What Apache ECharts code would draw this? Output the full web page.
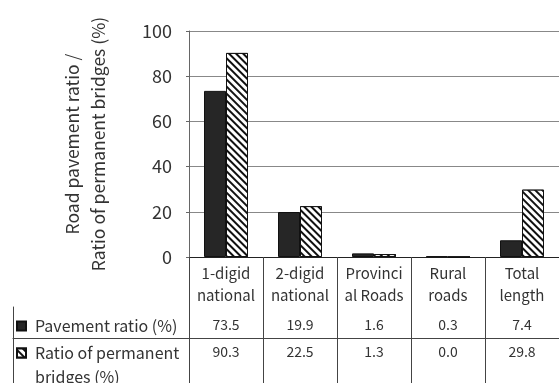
<!DOCTYPE html>
<html>
<head>
<meta charset="utf-8">
<script src="https://cdn.jsdelivr.net/npm/echarts@6/dist/echarts.min.js"></script>
<style>
  html, body { margin: 0; padding: 0; background: #fff; }
  #chart { width: 559px; height: 383px; }
</style>
</head>
<body>
<div id="chart"></div>
<script>
// Road categories (column headers of the table under the chart)
const categories = ['1-digid\nnational', '2-digid\nnational', 'Provinci\nal Roads', 'Rural\nroads', 'Total\nlength'];
// Values in percent
const pavementRatio = [73.5, 19.9, 1.6, 0.3, 7.4];
const permanentBridgeRatio = [90.3, 22.5, 1.3, 0.0, 29.8];
// Value axis ticks
const yTicks = [0, 20, 40, 60, 80, 100];
const seriesNames = ['Pavement ratio (%)', 'Ratio of permanent bridges (%)'];
const valueAxisName = 'Road pavement ratio /\nRatio of permanent bridges (%)';

const FONT = '"Noto Sans CJK JP", "Noto Sans", sans-serif';
const TEXT = '#333';
const RULE = '#444';

const chart = echarts.init(document.getElementById('chart'), null, { renderer: 'canvas' });

// One table row = a label-only category axis placed under the plot
const tableRow = (values, offset) => ({
  gridIndex: 0,
  type: 'category',
  data: categories,
  position: 'bottom',
  offset: offset,
  axisLine: { show: false },
  axisTick: { show: false },
  splitLine: { show: false },
  axisLabel: {
    interval: 0,
    margin: 0,
    fontSize: 14,
    color: TEXT,
    formatter: (v, i) => values[i].toFixed(1)
  }
});

// Horizontal table rule spanning the full table width
const tableRule = offset => ({
  gridIndex: 1, type: 'category', data: [''], position: 'top', offset: offset,
  axisLine: { show: true, lineStyle: { color: RULE } },
  axisTick: { show: false }, axisLabel: { show: false }, splitLine: { show: false }
});

const legendBase = {
  left: 16, padding: 0,
  orient: 'vertical',
  icon: 'rect', itemWidth: 9, itemHeight: 9,
  selectedMode: false,
  textStyle: { fontSize: 16, color: TEXT, lineHeight: 24, padding: [0, 0, 0, 4] }
};

chart.setOption({
  animation: false,
  backgroundColor: '#fff',
  textStyle: { fontFamily: FONT },
  grid: [
    { left: 189, top: 31, width: 373, height: 226 },
    { left: 13, top: 307, width: 549, height: 76 }
  ],
  legend: [
    Object.assign({}, legendBase, { data: [seriesNames[0]], top: 314 }),
    Object.assign({}, legendBase, {
      data: [seriesNames[1]],
      top: 317,
      // blank first line keeps the marker level with "Ratio of permanent"
      formatter: n => '\n' + n.replace(' bridges', '\nbridges')
    })
  ],
  xAxis: [
    {
      gridIndex: 0,
      type: 'category',
      data: categories,
      axisLine: { show: true, lineStyle: { color: '#222', width: 1.2 } },
      axisTick: { show: true, interval: 0, length: 126, lineStyle: { color: RULE } },
      splitLine: { show: false },
      axisLabel: { interval: 0, margin: 5, fontSize: 15, lineHeight: 22, color: TEXT }
    },
    tableRow(pavementRatio, 61),
    tableRow(permanentBridgeRatio, 88),
    tableRule(0),
    tableRule(-31)
  ],
  yAxis: [
    {
      gridIndex: 0,
      type: 'value',
      min: yTicks[0],
      max: yTicks[yTicks.length - 1],
      interval: yTicks[1] - yTicks[0],
      axisLine: { show: true, lineStyle: { color: '#666' } },
      axisTick: { show: true, length: 3, lineStyle: { color: '#666' } },
      axisLabel: { fontSize: 18, margin: 17, color: TEXT },
      splitLine: { show: true, lineStyle: { color: '#888' } },
      name: valueAxisName,
      nameLocation: 'middle',
      nameGap: 78,
      nameTextStyle: { fontSize: 17.5, lineHeight: 26, color: TEXT }
    },
    {
      gridIndex: 1, type: 'value', min: 0, max: 1,
      axisLine: { show: true, lineStyle: { color: RULE } },
      axisTick: { show: false }, axisLabel: { show: false }, splitLine: { show: false }
    }
  ],
  series: [
    {
      name: seriesNames[0],
      type: 'bar',
      xAxisIndex: 0, yAxisIndex: 0,
      data: pavementRatio,
      barWidth: 22,
      barGap: '0%',
      itemStyle: { color: '#262626', borderColor: '#111', borderWidth: 1 }
    },
    {
      name: seriesNames[1],
      type: 'bar',
      xAxisIndex: 0, yAxisIndex: 0,
      data: permanentBridgeRatio,
      barWidth: 22,
      barGap: '0%',
      itemStyle: {
        color: '#fff', borderColor: '#111', borderWidth: 1,
        decal: {
          symbol: 'rect', symbolSize: 1,
          color: '#111', backgroundColor: '#fff',
          dashArrayX: [1, 0], dashArrayY: [1.5, 2.2],
          rotation: Math.PI / 4
        }
      }
    }
  ]
});
</script>
</body>
</html>
